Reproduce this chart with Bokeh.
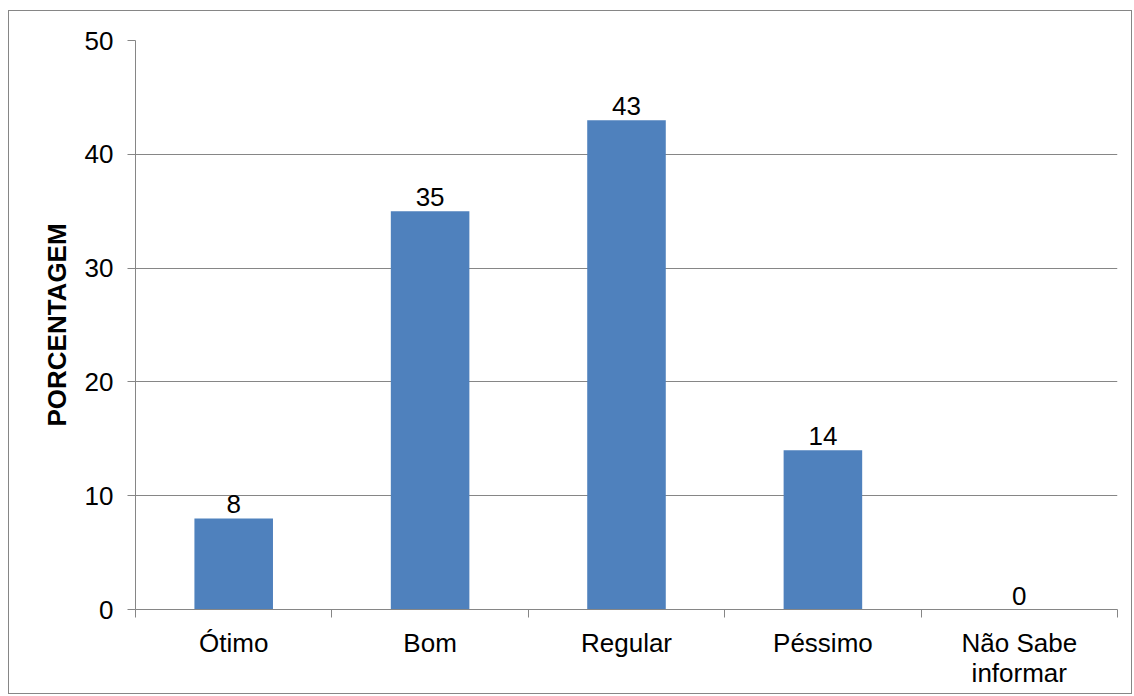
from bokeh.plotting import figure
from bokeh.models import Range1d, FixedTicker, ColumnDataSource
from bokeh.core.properties import value
from bokeh.embed import file_html
from bokeh.resources import INLINE

categories = ["Ótimo", "Bom", "Regular", "Péssimo", "Não Sabe\ninformar"]
values = [8, 35, 43, 14, 0]
y_ticks = [0, 10, 20, 30, 40, 50]
y_label = "PORCENTAGEM"

FONT = "Liberation Sans"
GRAY = "#868686"
BAR = "#4F81BD"

xs = [i + 0.5 for i in range(len(categories))]
src = ColumnDataSource(dict(x=xs, top=values, label=[str(v) for v in values]))

p = figure(width=1124, height=684, output_backend="svg", toolbar_location=None,
           x_range=Range1d(0, len(categories)), y_range=Range1d(0, 50),
           min_border_left=126, min_border_top=29, min_border_right=16, min_border_bottom=86,
           margin=(10, 0, 0, 8))
p.styles = {"border": "1px solid " + GRAY}
p.outline_line_color = None
p.background_fill_color = "white"
p.border_fill_color = "white"

p.vbar(x="x", top="top", bottom=0, width=0.4, source=src, fill_color=BAR, line_color=None)
p.text(x="x", y="top", text="label", source=src, text_align="center", text_baseline="bottom",
       y_offset=-5, text_font=value(FONT), text_font_size="26px", text_color="black")

# x axis: labels at centres, ticks at category boundaries
p.xaxis.ticker = FixedTicker(ticks=xs, minor_ticks=list(range(len(categories) + 1)))
p.xaxis.major_label_overrides = {x: c for x, c in zip(xs, categories)}
p.xaxis.major_tick_out = 0
p.xaxis.major_tick_in = 0
p.xaxis.minor_tick_out = 8
p.xaxis.minor_tick_in = 0
p.xaxis.minor_tick_line_color = GRAY
p.xaxis.axis_line_color = GRAY
p.xaxis.major_label_standoff = 10
p.xaxis.major_label_text_font = FONT
p.xaxis.major_label_text_font_size = "26px"
p.xaxis.major_label_text_color = "black"
p.xaxis.major_label_text_line_height = 1.0

p.yaxis.ticker = FixedTicker(ticks=y_ticks)
p.yaxis.major_tick_out = 8
p.yaxis.major_tick_in = 0
p.yaxis.minor_tick_line_color = None
p.yaxis.major_tick_line_color = GRAY
p.yaxis.axis_line_color = GRAY
p.yaxis.major_label_standoff = 14
p.yaxis.major_label_text_font = FONT
p.yaxis.major_label_text_font_size = "26px"
p.yaxis.major_label_text_color = "black"
p.yaxis.axis_label = y_label
p.yaxis.axis_label_text_font = FONT
p.yaxis.axis_label_text_font_size = "26px"
p.yaxis.axis_label_text_font_style = "bold"
p.yaxis.axis_label_text_color = "black"
p.yaxis.axis_label_standoff = 10

p.xgrid.grid_line_color = None
p.ygrid.grid_line_color = GRAY
p.ygrid.grid_line_width = 1

open("out.html", "w").write(file_html(p, INLINE))
